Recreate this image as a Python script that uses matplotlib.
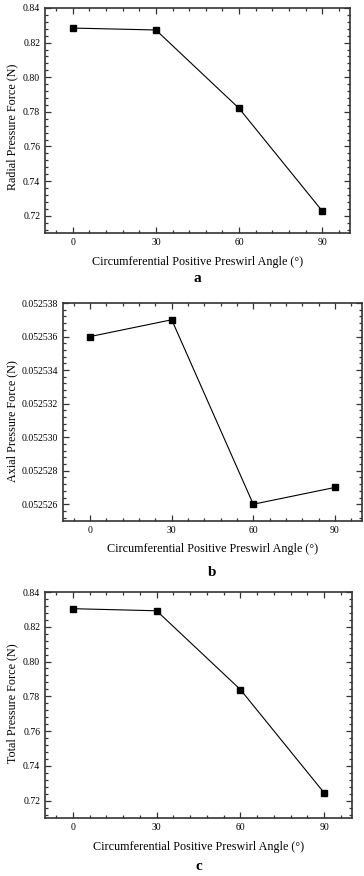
import matplotlib
matplotlib.use("Agg")
import matplotlib.pyplot as plt
from matplotlib.ticker import MultipleLocator, AutoMinorLocator, FormatStrFormatter

angles = [0, 30, 60, 90]
radial = [0.8284, 0.8273, 0.7820, 0.7227]
axial = [0.052536, 0.052537, 0.052526, 0.052527]
total = [0.8304, 0.8292, 0.7839, 0.7245]

xlabel = "Circumferential Positive Preswirl Angle (°)"
ylabels = ["Radial Pressure Force (N)", "Axial Pressure Force (N)", "Total Pressure Force (N)"]
letters = ["a", "b", "c"]

plt.rcParams["font.family"] = ["Liberation Serif", "DejaVu Serif"]

W, H = 364, 876
fig = plt.figure(figsize=(W / 100, H / 100), dpi=100)

# axes boxes in pixels: left, top, right, bottom
boxes = [(45, 8, 350, 233), (63, 303, 362, 521), (45, 592, 352, 818)]
ylims = [(0.71, 0.84), (0.052525, 0.052538), (0.71, 0.84)]
ysteps = [0.02, 0.000002, 0.02]
yfmts = ["%.2f", "%.6f", "%.2f"]
xlab_y = [262, 549, 847]
let_y = [278, 572, 867]
ylab_pos = [0.47, 0.46, 0.51]

for i, (vals, yl) in enumerate(zip([radial, axial, total], ylabels)):
    l, t, r, b = boxes[i]
    ax = fig.add_axes([l / W, 1 - b / H, (r - l) / W, (b - t) / H])
    ax.plot(angles, vals, color="black", lw=0.8, marker="s", ms=4.5,
            mfc="black", mec="black")
    ax.set_xlim(-10, 100)
    ax.set_ylim(*ylims[i])
    ax.xaxis.set_major_locator(MultipleLocator(30))
    ax.xaxis.set_minor_locator(AutoMinorLocator(5))
    ax.yaxis.set_major_locator(MultipleLocator(ysteps[i]))
    ax.yaxis.set_minor_locator(AutoMinorLocator(5))
    ax.yaxis.set_major_formatter(FormatStrFormatter(yfmts[i]))
    ax.tick_params(which="both", direction="in", top=True, right=True,
                   labelsize=7, color="#333333", width=0.9)
    ax.tick_params(which="major", length=4)
    ax.tick_params(which="minor", length=2.2)
    for sp in ax.spines.values():
        sp.set_linewidth(1.2)
        sp.set_color("#333333")
    ax.set_ylabel(yl, fontsize=8.7)
    # label anchor is its right edge, ~18 px from the figure's left
    ax.yaxis.set_label_coords(-(l - 18) / (r - l), ylab_pos[i])
    cx = (l + r) / 2 / W
    fig.text(cx, 1 - xlab_y[i] / H, xlabel, ha="center", va="center", fontsize=8.7)
    fig.text(cx, 1 - let_y[i] / H, letters[i], ha="center", va="center",
             fontsize=11, fontweight="bold")

fig.savefig("out.png", dpi=100)
